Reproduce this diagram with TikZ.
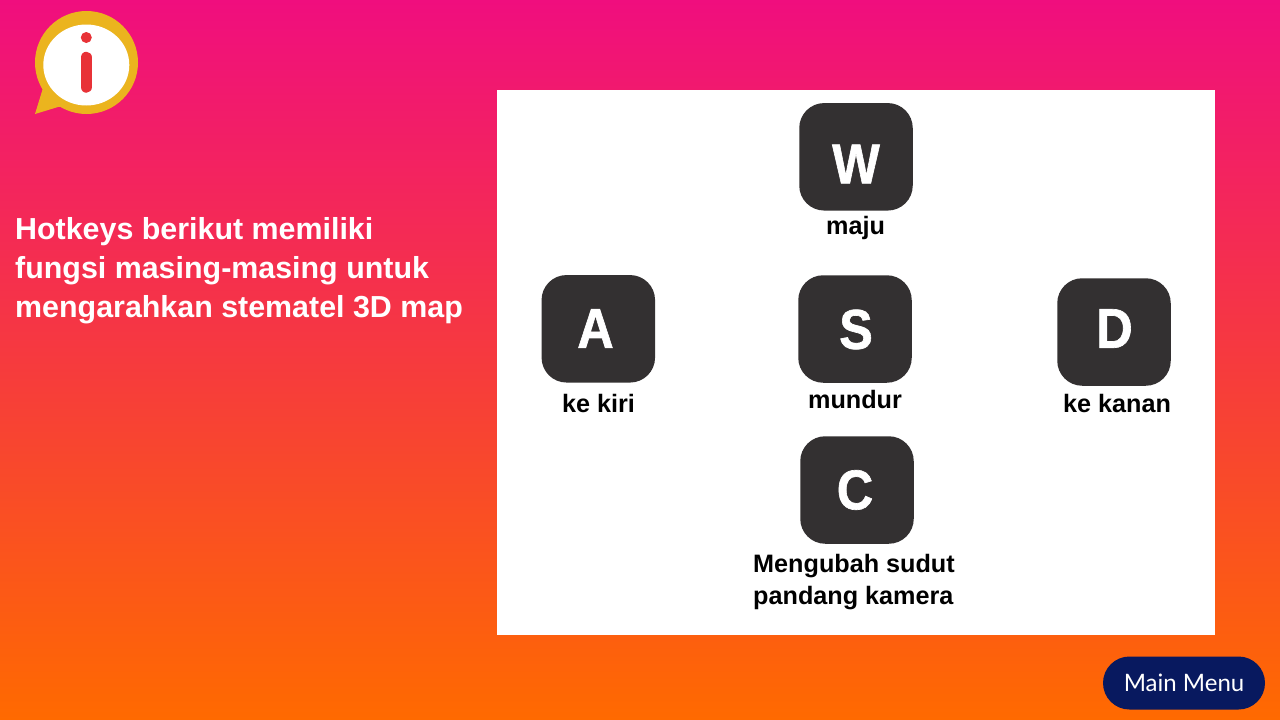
\documentclass[tikz,border=0pt]{standalone}
\usepackage{fontspec}
\setmainfont{Liberation Sans}
\newfontfamily\menufont{Lato}
\newfontfamily\keyfont[FakeBold=1.2]{Liberation Sans Bold}
\definecolor{bgtop}{RGB}{240,14,126}
\definecolor{bgmid}{RGB}{246,58,62}
\definecolor{bgbot}{RGB}{255,106,0}
\definecolor{keygray}{RGB}{51,48,49}
\definecolor{goldc}{RGB}{235,180,30}
\definecolor{redc}{RGB}{232,50,55}
\definecolor{navyc}{RGB}{8,25,95}
\newcommand{\keyglyph}[1]{\scalebox{0.9}[1]{#1}}
\tikzset{
 keybox/.style={fill=keygray,rounded corners=25pt,minimum width=113.5pt,minimum height=107.5pt,inner sep=0pt},
 keyletter/.style={inner sep=0pt,text=white,font=\keyfont\fontsize{56}{56}\selectfont},
 lab/.style={inner sep=0pt,text=black,font=\bfseries\fontsize{25.2}{32.5}\selectfont,align=left},
 head/.style={inner sep=0pt,text=white,font=\fontsize{30.4}{39}\selectfont\bfseries,align=left,anchor=north west}
}
\begin{document}
\begin{tikzpicture}[x=1pt,y=-1pt]
\useasboundingbox (0,0) rectangle (1280,720);
\shade[top color=bgtop,bottom color=bgbot,middle color=bgmid] (0,0) rectangle (1280,720);
% info icon
\fill[goldc] (86.5,62.5) circle (51.5);
\fill[goldc] (35,114) -- (43,88) -- (70,106) -- (58,107) -- cycle;
\fill[white] (86.3,65) ellipse (43 and 40.5);
\fill[redc] (86.3,37.5) circle (5.5);
\draw[redc,line width=11.5pt,line cap=round] (86.3,57.5) -- (86.3,87);
% heading
\node[head] (h) at (15,217) {Hotkeys berikut memiliki\\fungsi masing-masing untuk\\mengarahkan stematel 3D map};
% panel
\fill[white] (497,90) rectangle (1215,635);
% keys
\node[keybox] (w) at (856,156.8) {};
\node[keybox] (a) at (598.3,328.8) {};
\node[keybox] (s) at (855,329) {};
\node[keybox] (d) at (1114,332) {};
\node[keybox] (c) at (857,490) {};
\node[keyletter] (tw) at (856,164) {\keyglyph{W}};
\node[keyletter] (ta) at (595.5,328.5) {\keyglyph{A}};
\node[keyletter] (ts) at (856,329.5) {\keyglyph{S}};
\node[keyletter] (td) at (1114.5,328.5) {\keyglyph{D}};
\node[keyletter] (tc) at (855,490) {\keyglyph{C}};
\node[lab] (lw) at (855.5,228) {maju};
\node[lab] (la) at (598.5,403) {ke kiri};
\node[lab] (ls) at (855,399) {mundur};
\node[lab] (ld) at (1117,403) {ke kanan};
\node[lab,anchor=west] (lc) at (753,582) {Mengubah sudut\\pandang kamera};
% button
\node[fill=navyc,rounded corners=26.5pt,minimum width=162pt,minimum height=53pt,inner sep=0pt,text=white,font=\menufont\fontsize{24}{24}\selectfont] (mm) at (1184,683) {Main Menu};
\end{tikzpicture}
\end{document}
